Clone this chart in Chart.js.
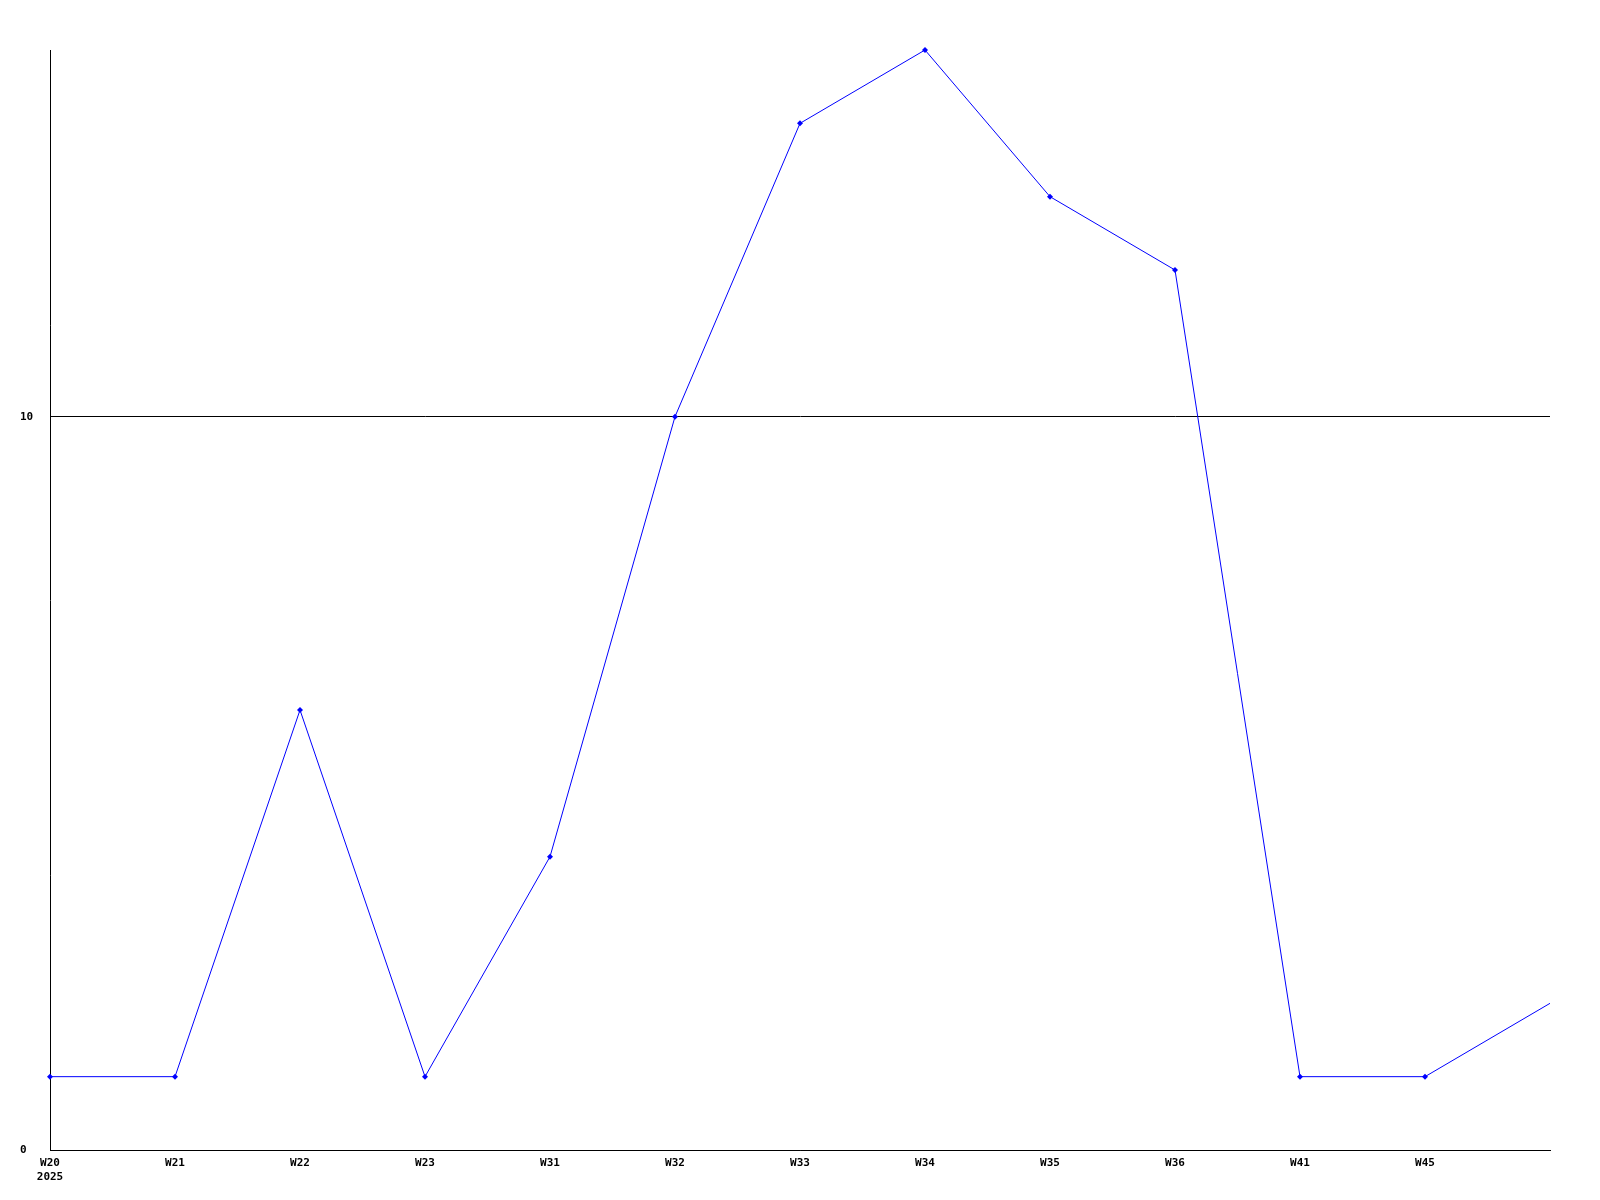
<!DOCTYPE html>
<html>
<head>
<meta charset="utf-8">
<script src="https://cdn.jsdelivr.net/npm/chart.js@4"></script>
<style>
  html, body { margin: 0; padding: 0; background: #fff; }
  canvas { display: block; }
</style>
</head>
<body>
<canvas id="weeklyChart" width="1600" height="1200"></canvas>
<script>
// week labels, the last slot has no label (line runs to the edge)
const weeks = [['W20', '2025'], 'W21', 'W22', 'W23', 'W31', 'W32', 'W33', 'W34', 'W35', 'W36', 'W41', 'W45', '']
const counts = [1, 1, 6, 1, 4, 10, 14, 15, 13, 12, 1, 1, 2]
const yTicks = [0, 10]
const yMax = 15

const ctx = document.getElementById('weeklyChart')

new Chart(ctx, {
  type: 'line',
  data: {
    labels: weeks,
    datasets: [{
      data: counts,
      borderColor: '#0000ff',
      backgroundColor: '#0000ff',
      borderWidth: 1,
      pointStyle: 'rectRot',
      pointRadius: counts.map((v, i) => i === counts.length - 1 ? 0 : 3),
      pointBorderWidth: 0,
      tension: 0,
      fill: false,
      clip: false
    }]
  },
  options: {
    responsive: false,
    animation: false,
    layout: {
      padding: { left: 20, right: 50, top: 50, bottom: 0 }
    },
    plugins: {
      legend: { display: false },
      tooltip: { enabled: false }
    },
    scales: {
      x: {
        offset: false,
        grid: { display: false, drawTicks: false },
        border: { color: '#000', width: 1 },
        ticks: {
          color: '#000',
          padding: 6,
          maxRotation: 0,
          autoSkip: false,
          font: { family: 'DejaVu Sans Mono', weight: 'bold', size: 11, lineHeight: 1.3 }
        },
        afterFit: (axis) => { axis.height = 50 }
      },
      y: {
        min: 0,
        max: yMax,
        grid: { color: '#000', lineWidth: 1, drawTicks: false },
        border: { color: '#000', width: 1 },
        ticks: {
          color: '#000',
          crossAlign: 'far',
          padding: 0,
          font: { family: 'DejaVu Sans Mono', weight: 'bold', size: 11 }
        },
        afterBuildTicks: (axis) => { axis.ticks = yTicks.map((v) => ({ value: v })) },
        afterFit: (axis) => { axis.width = 30 }
      }
    }
  }
})
</script>
</body>
</html>
